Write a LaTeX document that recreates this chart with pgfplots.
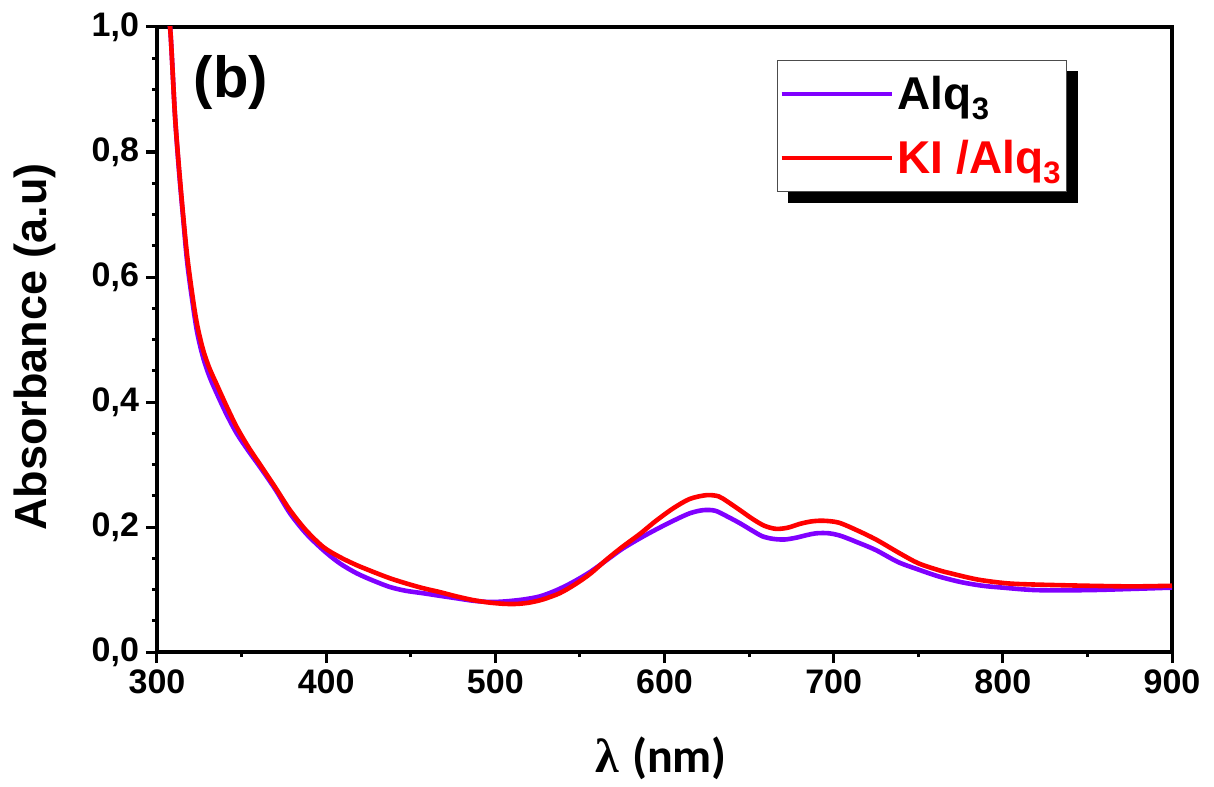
\documentclass[border=0pt]{standalone}
\usepackage{fontspec}
\setmainfont{Liberation Sans}
\newfontfamily\carlito{Carlito}
\newfontfamily\lserif{Liberation Serif}
\usepackage{pgfplots}
\pgfplotsset{compat=1.18}
\definecolor{alqpurple}{RGB}{128,0,255}
\definecolor{kired}{RGB}{255,0,0}
\newcommand{\sub}[1]{\raisebox{-5pt}{\fontsize{15.5}{15.5}\selectfont\bfseries #1}}

\pgfplotstableread{
x y
306 1.04
308 0.99
310.6 0.86
313 0.77
315.6 0.69
318 0.62
321.5 0.550
324 0.508
327.4 0.470
331 0.441
335.3 0.414
341 0.381
347.1 0.350
354 0.322
360.9 0.296
370 0.26
378.6 0.222
388 0.19
398.3 0.163
408 0.142
418 0.126
428 0.114
437.7 0.104
447 0.098
457.4 0.094
467 0.090
477 0.086
487 0.082
496.8 0.080
506 0.081
516.5 0.084
526.4 0.089
536.3 0.099
546 0.112
556 0.128
565.8 0.147
575 0.165
585.5 0.182
595 0.196
605.2 0.210
615 0.222
623 0.227
630 0.226
637 0.217
644.6 0.206
652 0.194
658 0.185
664.3 0.181
671 0.180
678 0.183
684 0.187
690 0.190
697 0.190
704 0.186
713.6 0.176
725 0.163
738 0.144
750 0.132
762 0.121
775 0.112
788 0.106
800 0.103
820 0.099
850 0.099
877 0.101
900 0.103
}\alq

\pgfplotstableread{
x y
306 1.04
308 0.99
310.6 0.86
313 0.775
315.6 0.695
318 0.63
321.5 0.560
324 0.520
327.4 0.482
331 0.454
335.3 0.428
341 0.394
347.1 0.360
354 0.328
360.9 0.300
370 0.263
378.6 0.227
388 0.195
398.3 0.168
408 0.152
418 0.139
428 0.128
437.7 0.118
447 0.110
457.4 0.102
467 0.096
477 0.089
487 0.083
496.8 0.079
506 0.077
513 0.077
520 0.079
528 0.084
538 0.094
547 0.108
556 0.125
565.8 0.148
575 0.168
585.5 0.189
595 0.210
605.2 0.230
615 0.245
625 0.251
632 0.249
637 0.241
644.6 0.227
652 0.213
659 0.202
666 0.197
673 0.199
680 0.205
687 0.209
694 0.210
703 0.207
713.6 0.195
725 0.180
739 0.158
750 0.142
762 0.131
769 0.126
785 0.116
802 0.110
818 0.108
850 0.106
877 0.105
900 0.106
}\kialq

\begin{document}
\begin{tikzpicture}
\begin{axis}[
  scale only axis, width=507.5pt, height=312.5pt,
  xmin=300, xmax=900, ymin=0, ymax=1,
  xtick={300,400,...,900}, ytick={0,0.2,0.4,0.6,0.8,1.0},
  minor x tick num=1, minor y tick num=3,
  tick align=outside, xtick pos=bottom, ytick pos=left,
  major tick length=5.5pt, minor tick length=2.5pt,
  axis line style={line width=2pt},
  tick style={line width=1.5pt, black},
  /pgf/number format/assume math mode=true,
  ticklabel style={font=\fontsize{17}{17}\selectfont\bfseries},
  yticklabel style={/pgf/number format/.cd, use comma, fixed, fixed zerofill, precision=1},
  xlabel={{\lserif\bfseries λ} {\carlito\bfseries (nm)}},
  ylabel={\bfseries Absorbance (a.u)},
  xlabel style={at={(axis description cs:0.4966,-0.1696)}, anchor=center, font=\fontsize{24}{24}\selectfont},
  ylabel style={at={(axis description cs:-0.1202,0.488)}, anchor=center, font=\fontsize{22.5}{22.5}\selectfont},
  legend style={name=leg, at={(axis description cs:0.6108,0.9472)}, anchor=north west, draw=black!70, line width=0.7pt, fill=white,
    font=\fontsize{23}{23}\selectfont\bfseries, inner xsep=1pt, inner ysep=5.5pt, row sep=10pt,
    /tikz/every even column/.append style={column sep=6pt}},
  legend cell align=left,
  legend image code/.code={\draw[#1, line width=2pt] (0pt,0pt) -- (55pt,0pt);},
]
\addplot[alqpurple, line width=2.3pt, smooth] table[x=x,y=y] {\alq};
\addlegendentry{Alq\sub{3}}
\addplot[kired, line width=2.3pt, smooth] table[x=x,y=y] {\kialq};
\addlegendentry{\textcolor{kired}{KI /Alq\sub{3}}}
\node[font=\fontsize{29}{29}\selectfont\bfseries] at (rel axis cs:0.0729,0.9104) {(b)};
\end{axis}
\fill[black] ([yshift=-5.5pt]leg.north east) rectangle ([xshift=5.5pt,yshift=-5.5pt]leg.south east);
\fill[black] ([xshift=5.5pt]leg.south west) rectangle ([xshift=5.5pt,yshift=-5.5pt]leg.south east);
\path[use as bounding box] ([shift={(-78.5pt,-65pt)}]current axis.south west) rectangle ([shift={(21pt,13.5pt)}]current axis.north east);
\end{tikzpicture}
\end{document}
